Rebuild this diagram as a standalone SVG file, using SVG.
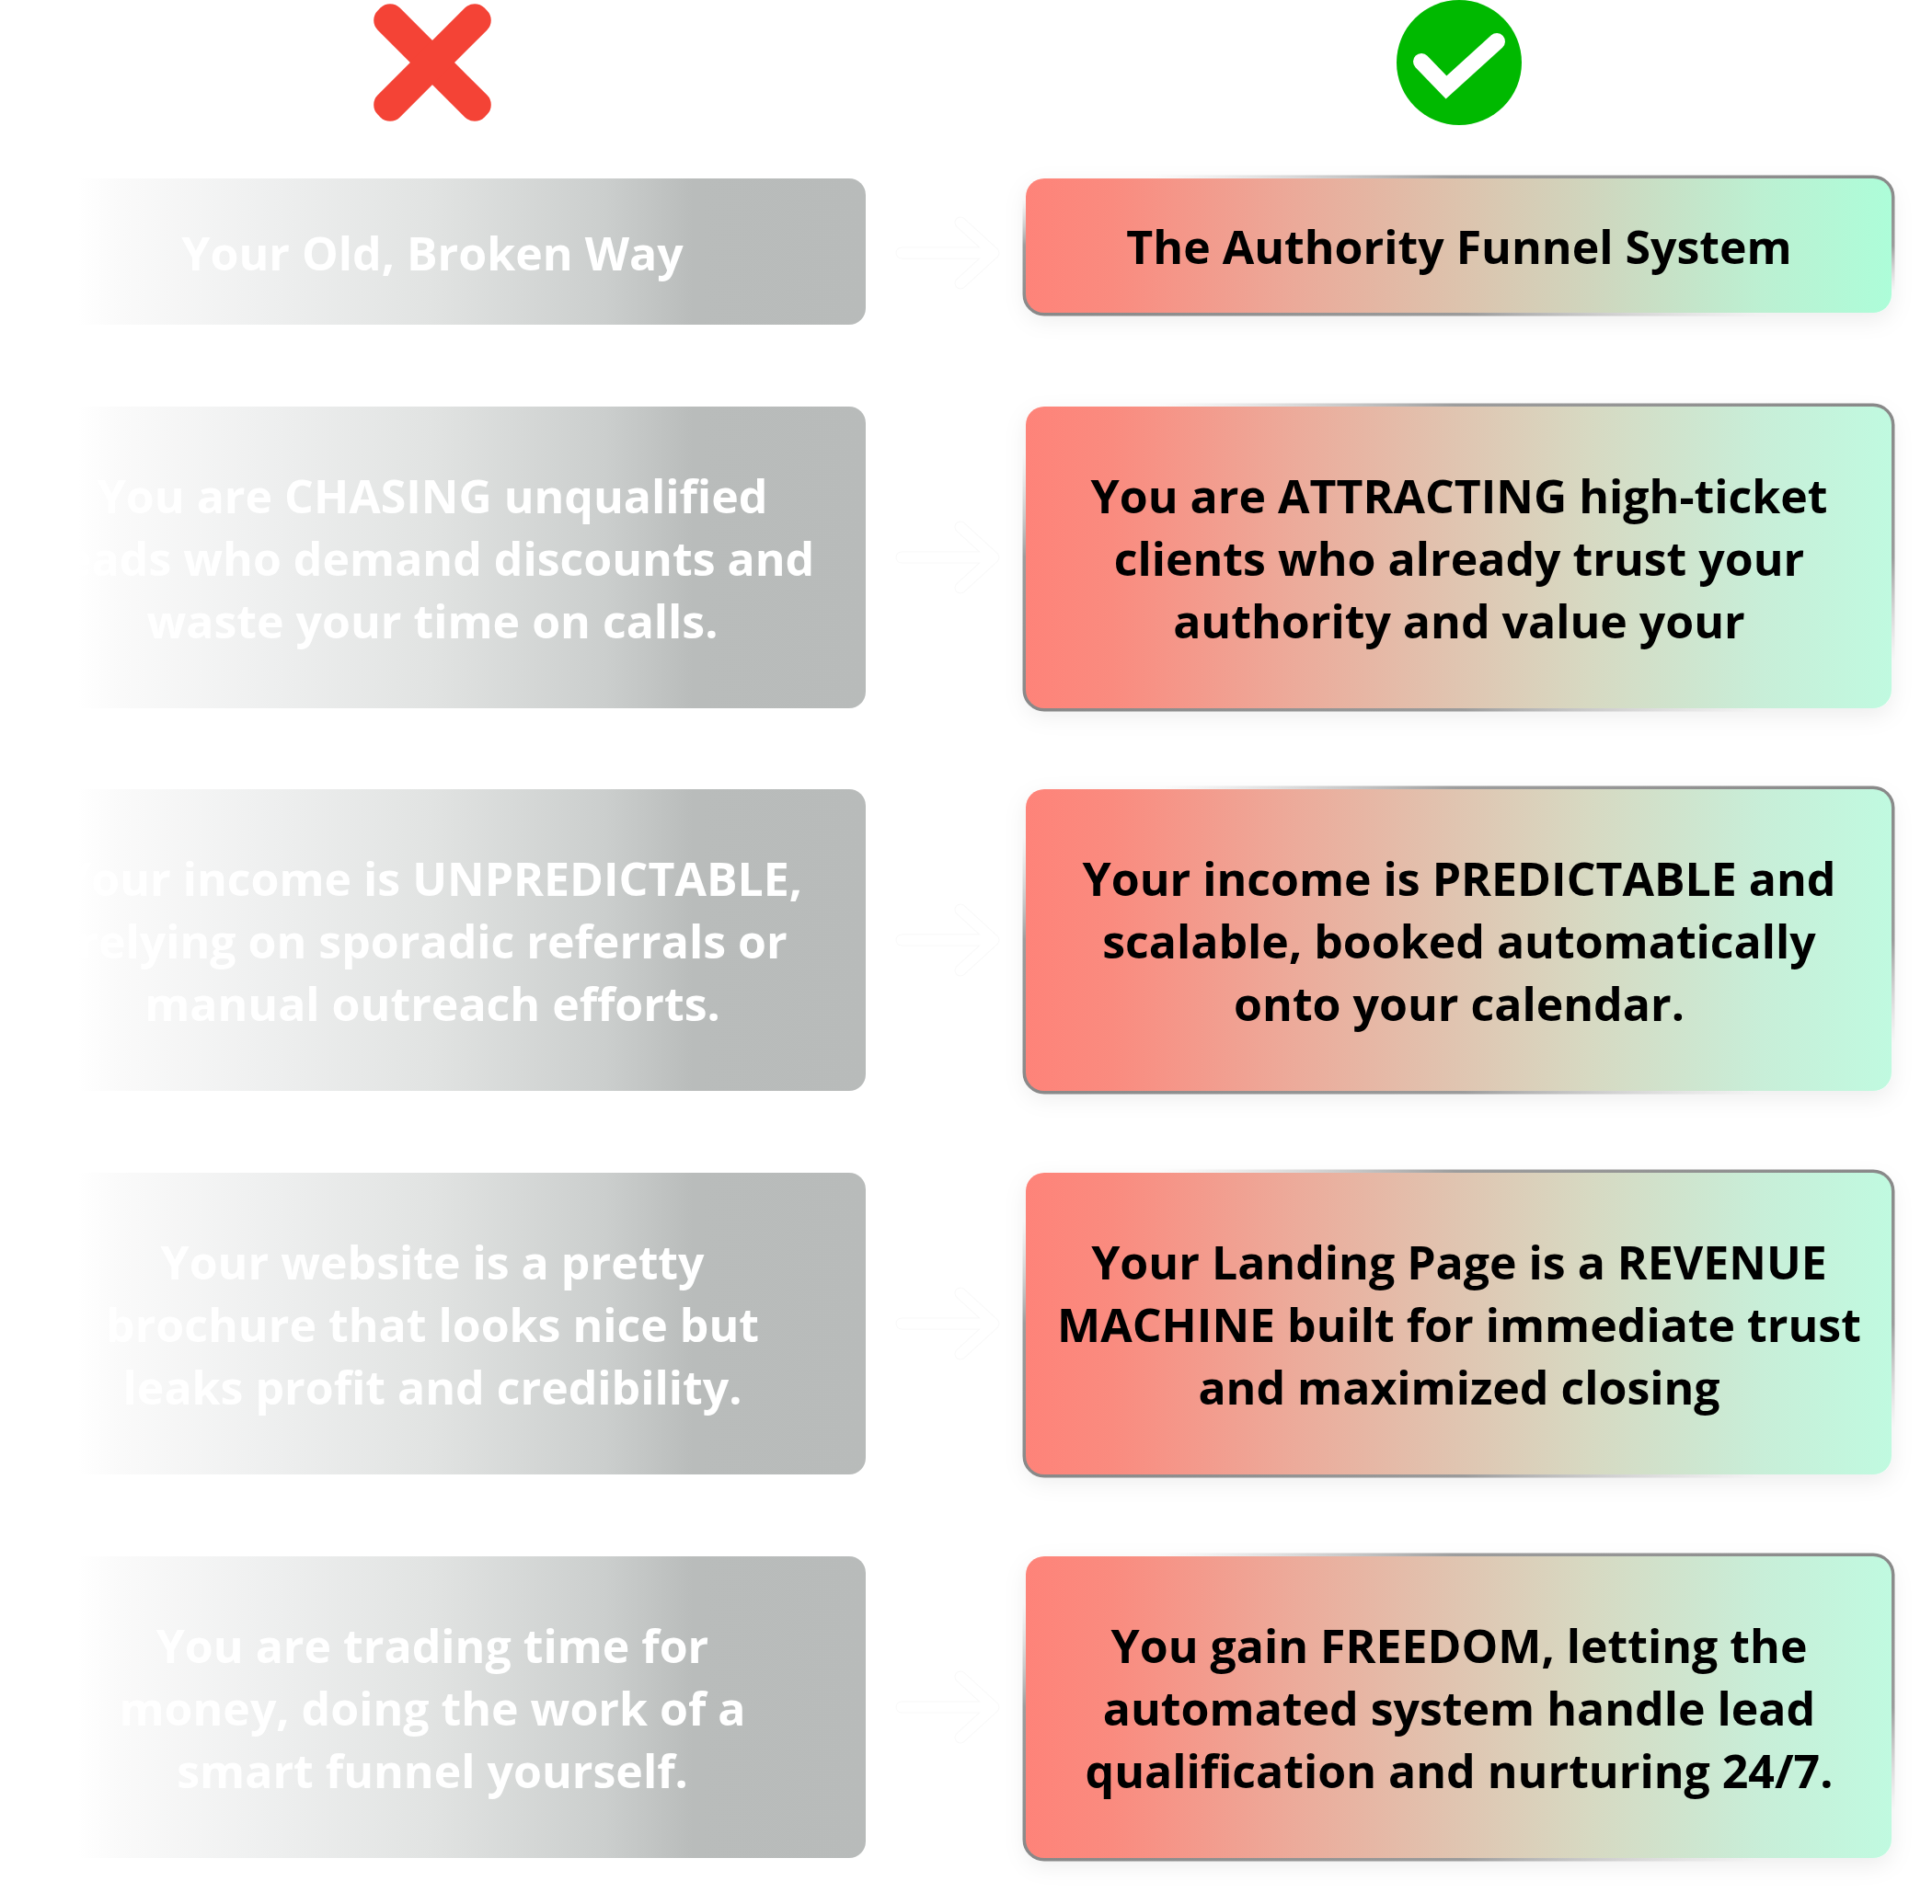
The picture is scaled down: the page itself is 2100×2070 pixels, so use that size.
<svg xmlns="http://www.w3.org/2000/svg" width="2100" height="2070" viewBox="0 0 2100 2070">
<style>
  .t { font-family: "Open Sans", "Liberation Sans", sans-serif; font-weight: 700; font-size: 50px; text-anchor: middle; }
  .tl { fill: #ffffff; }
  .tr { fill: #000000; }
  .old { fill: url(#gOld); }
  .newA { fill: url(#gNew1); }
  .newB { fill: url(#gNew2); }
  .edge { fill: none; stroke: url(#gEdge); stroke-width: 7; }
  .arrowBg { fill: none; stroke: #f8f8f8; stroke-width: 13; stroke-linecap: round; stroke-linejoin: round; }
  .arrowFg { fill: none; stroke: #ffffff; stroke-width: 11; stroke-linecap: round; stroke-linejoin: round; }
</style>
<defs>
  <linearGradient id="gOld" x1="0" y1="0" x2="1" y2="0">
    <stop offset="0" stop-color="#ffffff"/>
    <stop offset="0.09" stop-color="#ffffff"/>
    <stop offset="0.14" stop-color="#fafafa"/>
    <stop offset="0.3" stop-color="#eff0f0"/>
    <stop offset="0.5" stop-color="#e1e3e2"/>
    <stop offset="0.7" stop-color="#cbcecd"/>
    <stop offset="0.8" stop-color="#b9bcbb"/>
    <stop offset="1" stop-color="#b8bbba"/>
  </linearGradient>
  <linearGradient id="gNew1" x1="0" y1="0" x2="1" y2="0">
    <stop offset="0" stop-color="#fe8379"/>
    <stop offset="0.1" stop-color="#fa8b7f"/>
    <stop offset="0.3" stop-color="#eca898"/>
    <stop offset="0.5" stop-color="#ddc3ad"/>
    <stop offset="0.65" stop-color="#d0d5bd"/>
    <stop offset="0.85" stop-color="#bcf0d2"/>
    <stop offset="1" stop-color="#adfdd9"/>
  </linearGradient>
  <linearGradient id="gNew2" x1="0" y1="0" x2="1" y2="0">
    <stop offset="0" stop-color="#fe8379"/>
    <stop offset="0.1" stop-color="#fa8b7f"/>
    <stop offset="0.3" stop-color="#eda999"/>
    <stop offset="0.5" stop-color="#e0c5b1"/>
    <stop offset="0.65" stop-color="#d7d9c2"/>
    <stop offset="0.85" stop-color="#c8eed8"/>
    <stop offset="1" stop-color="#c0fae0"/>
  </linearGradient>
  <linearGradient id="gEdge" x1="0" y1="1" x2="1" y2="0">
    <stop offset="0" stop-color="#888888" stop-opacity="1"/>
    <stop offset="0.25" stop-color="#8c8c8c" stop-opacity="0.85"/>
    <stop offset="0.42" stop-color="#bbbbbb" stop-opacity="0"/>
    <stop offset="0.58" stop-color="#bbbbbb" stop-opacity="0"/>
    <stop offset="0.75" stop-color="#8c8c8c" stop-opacity="0.85"/>
    <stop offset="1" stop-color="#888888" stop-opacity="1"/>
  </linearGradient>
  <filter id="soft" x="-10%" y="-20%" width="120%" height="150%">
    <feDropShadow dx="0" dy="8" stdDeviation="12" flood-color="#000000" flood-opacity="0.07"/>
  </filter>
</defs>
<rect x="0" y="0" width="2100" height="2070" fill="#ffffff"/>

<g id="icon-cross">
  <rect x="-82" y="-17" width="164" height="34" rx="15" fill="#f44336" transform="translate(470,68) rotate(45)"/>
  <rect x="-82" y="-17" width="164" height="34" rx="15" fill="#f44336" transform="translate(470,68) rotate(-45)"/>
</g>
<g id="icon-check">
  <circle cx="1586" cy="68" r="68" fill="#00b900"/>
  <path d="M1545,67 L1572,95 L1627,45" fill="none" stroke="#ffffff" stroke-width="18" stroke-linecap="round" stroke-linejoin="miter"/>
</g>

<g id="connectors">
  <g transform="translate(0,275)">
    <path class="arrowBg" d="M980,0 H1078 M1044,-33 L1080,0 L1044,33"/>
    <path class="arrowFg" d="M980,0 H1078 M1044,-33 L1080,0 L1044,33"/>
  </g>
  <g transform="translate(0,606)">
    <path class="arrowBg" d="M980,0 H1078 M1044,-33 L1080,0 L1044,33"/>
    <path class="arrowFg" d="M980,0 H1078 M1044,-33 L1080,0 L1044,33"/>
  </g>
  <g transform="translate(0,1022)">
    <path class="arrowBg" d="M980,0 H1078 M1044,-33 L1080,0 L1044,33"/>
    <path class="arrowFg" d="M980,0 H1078 M1044,-33 L1080,0 L1044,33"/>
  </g>
  <g transform="translate(0,1439)">
    <path class="arrowBg" d="M980,0 H1078 M1044,-33 L1080,0 L1044,33"/>
    <path class="arrowFg" d="M980,0 H1078 M1044,-33 L1080,0 L1044,33"/>
  </g>
  <g transform="translate(0,1856)">
    <path class="arrowBg" d="M980,0 H1078 M1044,-33 L1080,0 L1044,33"/>
    <path class="arrowFg" d="M980,0 H1078 M1044,-33 L1080,0 L1044,33"/>
  </g>
</g>

<g id="old-1">
  <rect class="old" x="0" y="194" width="941" height="159" rx="18"/>
  <text class="t tl" x="470" y="294">Your Old, Broken Way</text>
</g>
<g id="old-2">
  <rect class="old" x="0" y="442" width="941" height="328" rx="18"/>
  <text class="t tl" x="470" y="558">You are CHASING unqualified</text>
  <text class="t tl" x="470" y="626">leads who demand discounts and</text>
  <text class="t tl" x="470" y="694">waste your time on calls.</text>
</g>
<g id="old-3">
  <rect class="old" x="0" y="858" width="941" height="328" rx="18"/>
  <text class="t tl" x="470" y="974">Your income is UNPREDICTABLE,</text>
  <text class="t tl" x="470" y="1042">relying on sporadic referrals or</text>
  <text class="t tl" x="470" y="1110">manual outreach efforts.</text>
</g>
<g id="old-4">
  <rect class="old" x="0" y="1275" width="941" height="328" rx="18"/>
  <text class="t tl" x="470" y="1391">Your website is a pretty</text>
  <text class="t tl" x="470" y="1459">brochure that looks nice but</text>
  <text class="t tl" x="470" y="1527">leaks profit and credibility.</text>
</g>
<g id="old-5">
  <rect class="old" x="0" y="1692" width="941" height="328" rx="18"/>
  <text class="t tl" x="470" y="1808">You are trading time for</text>
  <text class="t tl" x="470" y="1876">money, doing the work of a</text>
  <text class="t tl" x="470" y="1944">smart funnel yourself.</text>
</g>

<g id="new-1">
  <rect x="1115" y="194" width="941" height="146" rx="20" fill="#ffffff" filter="url(#soft)"/>
  <rect class="edge" x="1115" y="194" width="941" height="146" rx="20"/>
  <rect class="newA" x="1115" y="194" width="941" height="146" rx="20"/>
  <text class="t tr" x="1586" y="287">The Authority Funnel System</text>
</g>
<g id="new-2">
  <rect x="1115" y="442" width="941" height="328" rx="20" fill="#ffffff" filter="url(#soft)"/>
  <rect class="edge" x="1115" y="442" width="941" height="328" rx="20"/>
  <rect class="newB" x="1115" y="442" width="941" height="328" rx="20"/>
  <text class="t tr" x="1586" y="558">You are ATTRACTING high-ticket</text>
  <text class="t tr" x="1586" y="626">clients who already trust your</text>
  <text class="t tr" x="1586" y="694">authority and value your</text>
</g>
<g id="new-3">
  <rect x="1115" y="858" width="941" height="328" rx="20" fill="#ffffff" filter="url(#soft)"/>
  <rect class="edge" x="1115" y="858" width="941" height="328" rx="20"/>
  <rect class="newB" x="1115" y="858" width="941" height="328" rx="20"/>
  <text class="t tr" x="1586" y="974">Your income is PREDICTABLE and</text>
  <text class="t tr" x="1586" y="1042">scalable, booked automatically</text>
  <text class="t tr" x="1586" y="1110">onto your calendar.</text>
</g>
<g id="new-4">
  <rect x="1115" y="1275" width="941" height="328" rx="20" fill="#ffffff" filter="url(#soft)"/>
  <rect class="edge" x="1115" y="1275" width="941" height="328" rx="20"/>
  <rect class="newB" x="1115" y="1275" width="941" height="328" rx="20"/>
  <text class="t tr" x="1586" y="1391">Your Landing Page is a REVENUE</text>
  <text class="t tr" x="1586" y="1459">MACHINE built for immediate trust</text>
  <text class="t tr" x="1586" y="1527">and maximized closing</text>
</g>
<g id="new-5">
  <rect x="1115" y="1692" width="941" height="328" rx="20" fill="#ffffff" filter="url(#soft)"/>
  <rect class="edge" x="1115" y="1692" width="941" height="328" rx="20"/>
  <rect class="newB" x="1115" y="1692" width="941" height="328" rx="20"/>
  <text class="t tr" x="1586" y="1808">You gain FREEDOM, letting the</text>
  <text class="t tr" x="1586" y="1876">automated system handle lead</text>
  <text class="t tr" x="1586" y="1944">qualification and nurturing 24/7.</text>
</g>
</svg>
